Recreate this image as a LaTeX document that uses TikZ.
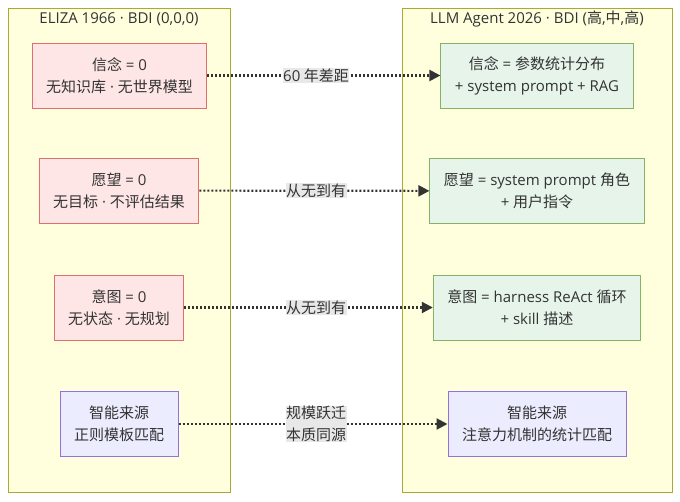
\documentclass[tikz,border=0pt]{standalone}
\usepackage{fontspec}
\setmainfont{Open Sans}
\newfontfamily\cjk{Noto Sans CJK SC}
\usetikzlibrary{arrows.meta}

\definecolor{ink}{HTML}{333333}
\definecolor{clusterfill}{HTML}{FFFFDE}
\definecolor{clusterline}{HTML}{AAAA33}
\definecolor{oldfill}{HTML}{FFE6E6}
\definecolor{oldline}{HTML}{E07070}
\definecolor{newfill}{HTML}{E6F4EA}
\definecolor{newline}{HTML}{82B366}
\definecolor{srcfill}{HTML}{ECECFF}
\definecolor{srcline}{HTML}{9370DB}
\definecolor{labelbg}{HTML}{E8E8E8}

\begin{document}
\begin{tikzpicture}[x=1pt,y=-1pt, font=\fontsize{15}{22}\selectfont, text=ink,
    cluster/.style={draw=clusterline, fill=clusterfill, line width=1pt},
    bdibox/.style={line width=1pt, align=center, minimum height=65pt, inner xsep=14pt},
    oldbox/.style={bdibox, draw=oldline, fill=oldfill},
    newbox/.style={bdibox, draw=newline, fill=newfill},
    srcbox/.style={bdibox, draw=srcline, fill=srcfill},
    gap/.style={draw=ink, line width=2.2pt, dash pattern=on 2pt off 2pt, -{Triangle[length=11pt,width=11pt]}},
    gaplabel/.style={fill=labelbg, inner sep=0.5pt, align=center, font=\fontsize{15}{22}\cjk}]
\useasboundingbox (0,0) rectangle (680,501);

% Draw clusters
\draw[cluster] (8,8) rectangle (230,492);
\draw[cluster] (402,8) rectangle (672,492);
\node (elizatitle) at (119,19) {ELIZA 1966 · BDI (0,0,0)};
\node (llmtitle) at (537,19) {LLM Agent 2026 · BDI ({\cjk 高},{\cjk 中},{\cjk 高})};

% ELIZA side
\node[oldbox] (elizab) at (119.5,75.5) {{\cjk 信念} = 0\\{\cjk 无知识库} · {\cjk 无世界模型}};
\node[oldbox] (elizad) at (119,190.5) {{\cjk 愿望} = 0\\{\cjk 无目标} · {\cjk 不评估结果}};
\node[oldbox] (elizai) at (119,307.5) {{\cjk 意图} = 0\\{\cjk 无状态} · {\cjk 无规划}};
\node[srcbox, font=\fontsize{15}{22}\cjk] (elizas) at (119,424) {智能来源\\正则模板匹配};

% LLM side
\node[newbox] (llmb) at (537,75.5) {{\cjk 信念} = {\cjk 参数统计分布}\\+ system prompt + RAG};
\node[newbox] (llmd) at (537,191) {{\cjk 愿望} = system prompt {\cjk 角色}\\+ {\cjk 用户指令}};
\node[newbox] (llmi) at (537,307.5) {{\cjk 意图} = harness ReAct {\cjk 循环}\\+ skill {\cjk 描述}};
\node[srcbox, font=\fontsize{15}{22}\cjk] (llms) at (537,424) {智能来源\\注意力机制的统计匹配};

% Connectors
\draw[gap] (elizab) -- (llmb);
\draw[gap] (elizad) -- (llmd);
\draw[gap] (elizai) -- (llmi);
\draw[gap] (elizas) -- (llms);

% Add labels
\node[gaplabel] (gapb) at (316,75.5) {{\fontspec{Open Sans}60} 年差距};
\node[gaplabel] (gapd) at (316,190.5) {从无到有};
\node[gaplabel] (gapi) at (316,307.5) {从无到有};
\node[gaplabel] (gaps) at (316,424) {规模跃迁\\本质同源};
\end{tikzpicture}
\end{document}
